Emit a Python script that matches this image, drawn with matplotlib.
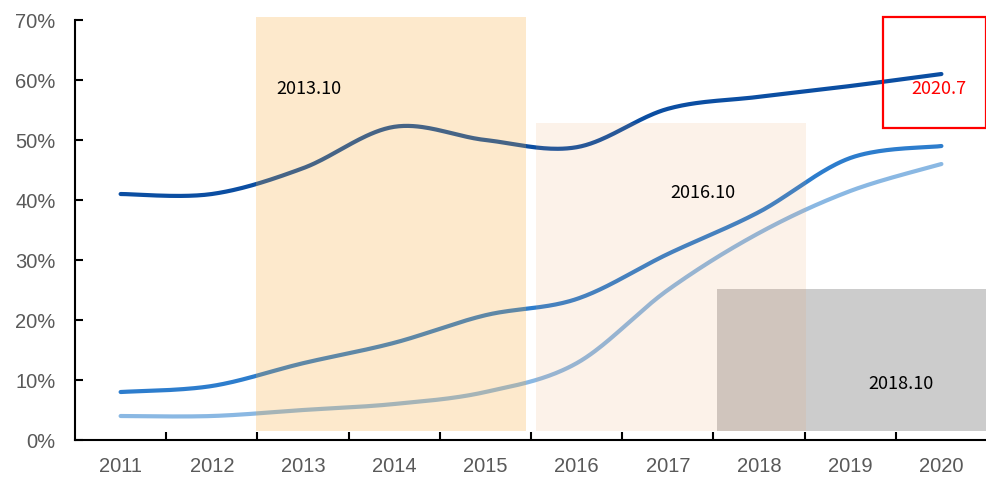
import numpy as np
import matplotlib
matplotlib.use("Agg")
import matplotlib.pyplot as plt
from matplotlib.patches import Rectangle

years = ["2011", "2012", "2013", "2014", "2015", "2016", "2017", "2018", "2019", "2020"]
top_line = [41, 41, 45.3, 52.2, 50, 48.8, 55.2, 57.2, 59, 61]
mid_line = [8, 9, 12.8, 16.2, 20.8, 23.5, 31, 38, 47, 49]
low_line = [4, 4, 5, 6, 8, 12.8, 25, 34.5, 41.5, 46]

# shaded periods: (x start, x end, y top in %, label, label x, label y)
periods = [
    (1.49, 4.45, 70.5, "2013.10", 2.06, 58.5),
    (4.56, 7.52, 52.8, "2016.10", 6.38, 41.2),
    (6.54, 9.51, 25.2, "2018.10", 8.56, 9.3),
]
period_colors = [("#f8a935", 0.25), ("#ef9c5c", 0.13), ("#cccccc", 1.0)]
span_bottom = 1.5


def smooth(xs, ys, n=40):
    # catmull-rom curve through the points, like a spreadsheet "smoothed line"
    p = np.column_stack([xs, ys]).astype(float)
    p = np.vstack([p[0], p, p[-1]])
    out = []
    t = np.linspace(0, 1, n)[:, None]
    for i in range(1, len(p) - 2):
        p0, p1, p2, p3 = p[i - 1], p[i], p[i + 1], p[i + 2]
        seg = 0.5 * ((2 * p1) + (-p0 + p2) * t + (2 * p0 - 5 * p1 + 4 * p2 - p3) * t ** 2
                     + (-p0 + 3 * p1 - 3 * p2 + p3) * t ** 3)
        out.append(seg if i == 1 else seg[1:])
    out = np.vstack(out)
    return out[:, 0], out[:, 1]


fig = plt.figure(figsize=(9.87, 4.80), dpi=100)
ax = fig.add_axes([0.076, 0.0833, 0.924, 0.875])

x = np.arange(len(years))
for vals, col in [(top_line, "#0b4ea2"), (mid_line, "#2d7dcd"), (low_line, "#8ab8e3")]:
    sx, sy = smooth(x, vals)
    ax.plot(sx, sy, color=col, lw=3, solid_capstyle="round", zorder=2)

label_font = ["Noto Sans CJK SC", "DejaVu Sans"]

# grey span goes under the others so the overlap picks up the tint
order = [2, 1, 0]
for k, i in enumerate(order):
    x0, x1, top, label, lx, ly = periods[i]
    col, a = period_colors[i]
    ax.add_patch(Rectangle((x0, span_bottom), x1 - x0, top - span_bottom,
                           facecolor=col, alpha=a, edgecolor="none",
                           zorder=3 + k, clip_on=False))
    ax.text(lx, ly, label, ha="center", va="center", fontsize=13,
            family=label_font, color="black", zorder=10)

# latest reading box
ax.add_patch(Rectangle((8.36, 52.0), 1.13, 18.5, facecolor="none", edgecolor="red",
                       lw=1.6, zorder=9, clip_on=False))
ax.text(8.97, 58.5, "2020.7", ha="center", va="center", fontsize=13,
        family=label_font, color="red", zorder=10)

ax.set_xlim(-0.5, 9.5)
ax.set_ylim(0, 70)
ax.set_yticks(np.arange(0, 71, 10))
ax.set_yticklabels([f"{v}%" for v in range(0, 71, 10)])
ax.set_xticks(x)
ax.set_xticklabels(years)
ax.set_xticks(np.arange(0.5, 9.5, 1), minor=True)

for s in ["top", "right"]:
    ax.spines[s].set_visible(False)
for s in ["left", "bottom"]:
    ax.spines[s].set_linewidth(1.5)
    ax.spines[s].set_zorder(11)

ax.tick_params(axis="x", which="major", length=0, pad=12, labelsize=14.5,
               labelcolor="#595959", labelfontfamily="Liberation Sans")
ax.tick_params(axis="x", which="minor", direction="in", length=6, width=1.5)
ax.tick_params(axis="y", direction="in", length=6, width=1.5, pad=14,
               labelsize=14.5, labelcolor="#595959", labelfontfamily="Liberation Sans")

fig.savefig("out.png", dpi=100)
